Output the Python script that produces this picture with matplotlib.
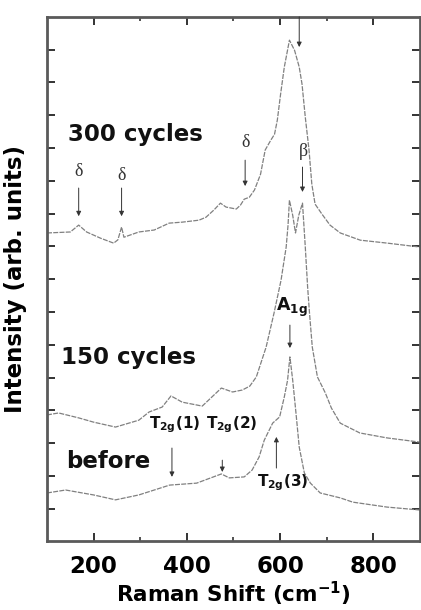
import matplotlib
matplotlib.use("Agg")
import matplotlib.pyplot as plt

plt.rcParams['font.family'] = ['DejaVu Sans']
plt.rcParams['mathtext.fontset'] = 'dejavusans'
plt.rcParams['mathtext.default'] = 'bf'

# ---- data (Raman shift in cm^-1, intensity in arbitrary units) ----
x_300 = [100, 150, 168, 185, 215, 243, 252, 260, 265, 297, 330, 362, 390, 426, 441, 458,
         472, 484, 506, 515, 523, 534, 545, 558, 568, 580, 588, 594, 601, 609, 620, 631,
         641, 647, 654, 662, 668, 675, 690, 707, 729, 772, 830, 900]
y_300 = [9.41, 9.44, 9.65, 9.44, 9.25, 9.10, 9.20, 9.59, 9.28, 9.44, 9.50, 9.71, 9.74, 9.80,
         9.89, 10.11, 10.32, 10.20, 10.14, 10.26, 10.44, 10.50, 10.72, 11.20, 11.94, 12.24,
         12.42, 12.85, 13.64, 14.47, 15.29, 14.98, 14.47, 13.95, 12.94, 11.94, 10.90, 10.29,
         9.98, 9.65, 9.41, 9.19, 9.10, 8.98]

x_150 = [100, 125, 168, 200, 247, 297, 319, 347, 366, 390, 433, 474, 498, 519, 535, 549,
         570, 587, 602, 613, 617, 620, 627, 633, 640, 648, 654, 659, 663, 669, 680, 697,
         710, 729, 771, 829, 900]
y_150 = [3.86, 3.92, 3.77, 3.64, 3.49, 3.70, 3.95, 4.10, 4.44, 4.25, 4.13, 4.68, 4.56, 4.62,
         4.74, 5.02, 5.93, 6.97, 7.97, 8.98, 9.65, 10.41, 9.95, 9.41, 9.95, 10.32, 8.98, 7.76,
         6.97, 5.93, 5.02, 4.53, 4.07, 3.61, 3.31, 3.16, 3.03]

x_before = [100, 140, 200, 247, 297, 363, 421, 474, 491, 523, 540, 555, 566, 584, 599, 609,
            616, 621, 627, 634, 641, 652, 665, 686, 729, 756, 829, 900]
y_before = [1.48, 1.57, 1.42, 1.27, 1.42, 1.72, 1.78, 2.06, 1.94, 1.97, 2.18, 2.58, 3.09,
            3.61, 3.80, 4.41, 4.92, 5.63, 4.92, 3.92, 2.88, 2.09, 1.78, 1.48, 1.33, 1.20,
            1.05, 0.96]

x_ticks = [200, 400, 600, 800]
x_minor = [300, 500, 700]
y_ticks = list(range(1, 16))

fig = plt.figure(figsize=(4.21, 6.10), dpi=100)
ax = fig.add_axes([0.1116, 0.1123, 0.886, 0.860])

line_kw = dict(color='#808080', lw=0.9, linestyle=(0, (4, 1.0)))
ax.plot(x_300, y_300, **line_kw)
ax.plot(x_150, y_150, **line_kw)
ax.plot(x_before, y_before, **line_kw)

ax.set_xlim(100, 900)
ax.set_ylim(0, 16)
ax.set_xticks(x_ticks)
ax.set_xticks(x_minor, minor=True)
ax.set_yticks(y_ticks)
ax.set_yticklabels([])
ax.tick_params(axis='both', which='major', direction='in', length=6, width=1.4,
               color='#333333', top=True, right=True)
ax.tick_params(axis='x', which='minor', direction='in', length=3, width=1.2,
               color='#333333', top=True)
ax.tick_params(axis='x', which='major', pad=10, labelsize=16.5)
for lab in ax.get_xticklabels():
    lab.set_fontweight('bold')
for sp in ax.spines.values():
    sp.set_color('#5a5a5a')
    sp.set_linewidth(2.0)

ax.set_xlabel('Raman Shift (cm$^{-1}$)', fontsize=15.5, fontweight='bold', labelpad=1)
ax.set_ylabel('Intensity (arb. units)', fontsize=16.5, fontweight='bold', labelpad=11)

big = dict(fontsize=16.5, fontweight='bold', va='center', ha='left', color='#111111')
ax.text(146, 12.42, '300 cycles', **big)
ax.text(131, 5.62, '150 cycles', **big)
ax.text(140, 2.45, 'before', **big)

greek = dict(fontsize=13, family=['Liberation Serif', 'DejaVu Serif'], ha='center',
             va='center', color='#333333')
ax.text(168, 11.27, 'δ', **greek)
ax.text(260, 11.17, 'δ', **greek)
ax.text(525, 12.18, 'δ', **greek)
ax.text(650, 11.88, 'β', **greek)

arr = dict(arrowstyle='-|>', color='#333333', lw=0.7, mutation_scale=7,
           shrinkA=0, shrinkB=0)

def arrow(x, y0, y1):
    ax.annotate('', xy=(x, y1), xytext=(x, y0), arrowprops=arr, annotation_clip=False)

arrow(168, 10.78, 9.92)
arrow(260, 10.78, 9.92)
arrow(525, 11.63, 10.84)
arrow(648, 11.42, 10.66)
arrow(641, 16.0, 15.08)
arrow(621, 6.60, 5.90)
arrow(368, 2.85, 1.97)
arrow(476, 2.48, 2.12)
arrow(592, 2.24, 3.19)

small = dict(fontsize=11, fontweight='bold', ha='center', va='center', color='#111111')
ax.text(625, 7.15, 'A$_{1g}$', fontsize=12.5, fontweight='bold', ha='center',
        va='center', color='#111111')
ax.text(374, 3.55, 'T$_{2g}$(1)', **small)
ax.text(496, 3.55, 'T$_{2g}$(2)', **small)
ax.text(605, 1.78, 'T$_{2g}$(3)', **small)

fig.savefig('out.png', dpi=100)
